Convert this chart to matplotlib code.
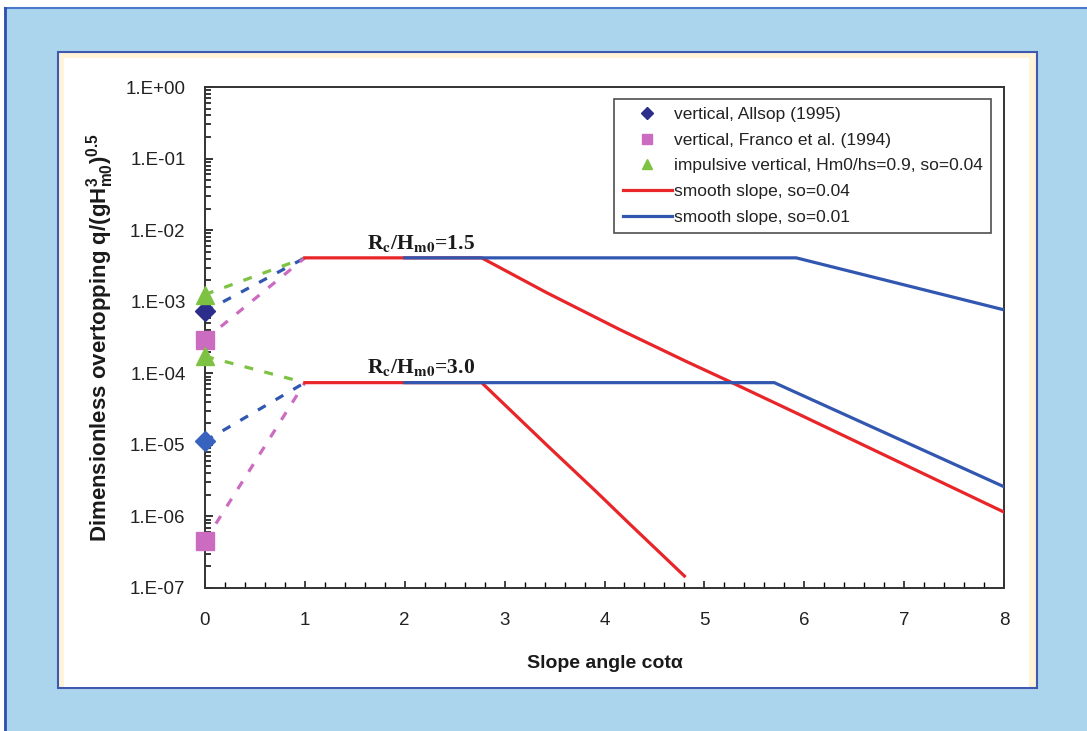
import matplotlib
matplotlib.use("Agg")
import matplotlib.pyplot as plt
from matplotlib.patches import Rectangle
from matplotlib.lines import Line2D
from matplotlib.ticker import FixedLocator, FuncFormatter, LogLocator, NullFormatter, MultipleLocator
import numpy as np

plt.rcParams['font.family'] = ['Liberation Sans', 'DejaVu Sans']
plt.rcParams['mathtext.fontset'] = 'custom'
plt.rcParams['mathtext.rm'] = 'Liberation Sans'
plt.rcParams['mathtext.bf'] = 'Liberation Sans:bold'
plt.rcParams['mathtext.it'] = 'Liberation Sans:italic'

# levels of the horizontal part (x = 1 .. break)
level_15 = 4.1e-3
level_30 = 7.4e-5

# vertical walls at cot = 0, dashed link to x = 1
allsop_15, allsop_30 = 7.3e-4, 1.13e-5
franco_15, franco_30 = 2.96e-4, 4.55e-7
impulse_15, impulse_30 = 1.26e-3, 1.73e-4

# smooth slope so=0.04 (red)
red15_x = [1.0, 2.0, 2.77, 3.42, 4.15, 4.82, 5.25, 5.95, 8.0]
red15_y = [level_15, level_15, level_15, 1.34e-3, 4.1e-4, 1.46e-4, 7.7e-5, 2.66e-5, 1.15e-6]
red30_x = [1.0, 2.0, 2.77, 3.42, 3.92, 4.25, 4.80]
red30_y = [level_30, level_30, level_30, 1.0e-5, 2.2e-6, 7.9e-7, 1.47e-7]

# smooth slope so=0.01 (blue)
blue15_x = [2.0, 5.92, 8.0]
blue15_y = [level_15, level_15, 7.7e-4]
blue30_x = [2.0, 5.7, 8.0]
blue30_y = [level_30, level_30, 2.6e-6]

legend_labels = ['vertical, Allsop (1995)',
                 'vertical, Franco et al. (1994)',
                 'impulsive vertical, Hm0/hs=0.9, so=0.04',
                 'smooth slope, so=0.04',
                 'smooth slope, so=0.01']

RED = '#E8262A'
BLUE = '#3157B0'
NAVY = '#2D2D8C'
BLUE2 = '#3763BF'
PINK = '#CC6CC0'
GREEN = '#7DC242'

W, H = 1087, 731
fig = plt.figure(figsize=(W / 100, H / 100), dpi=100, facecolor='#ABD5EC')


def rect(x0, y0, x1, y1, **kw):
    r = Rectangle((x0 / W, 1 - y1 / H), (x1 - x0) / W, (y1 - y0) / H,
                  transform=fig.transFigure, zorder=-5, **kw)
    fig.add_artist(r)


# frame of the screenshot
rect(0, 0, W, 7, facecolor='white', edgecolor='none')
rect(0, 0, 4, H, facecolor='white', edgecolor='none')
fig.add_artist(Line2D([5 / W, 1], [1 - 8 / H, 1 - 8 / H], transform=fig.transFigure,
                      color='#4A78CC', lw=1.5, zorder=-4))
fig.add_artist(Line2D([5 / W, 5 / W], [0, 1 - 8 / H], transform=fig.transFigure,
                      color='#2F4FB0', lw=2, zorder=-4))
# chart panel
rect(58, 52, 1037, 688, facecolor='#FFF3D8', edgecolor='#3F58B0', linewidth=1.5)
rect(64, 58, 1029, 687, facecolor='white', edgecolor='none')

ax = fig.add_axes([205 / W, 1 - 588 / H, 799 / W, 501 / H])
ax.set_facecolor('white')
ax.set_yscale('log')
ax.set_xlim(0, 8)
ax.set_ylim(1e-7, 1)

dash = (0, (2.8, 3.6))
for y0, y1, c in [(impulse_15, level_15, GREEN), (allsop_15, level_15, BLUE),
                  (franco_15, level_15, PINK), (impulse_30, level_30, GREEN),
                  (allsop_30, level_30, BLUE), (franco_30, level_30, PINK)]:
    ax.plot([0, 1], [y0, y1], color=c, lw=2.3, linestyle=dash, zorder=2)

ax.plot(red15_x, red15_y, color=RED, lw=2.3, zorder=3)
ax.plot(red30_x, red30_y, color=RED, lw=2.3, zorder=3)
ax.plot(blue15_x, blue15_y, color=BLUE, lw=2.3, zorder=4)
ax.plot(blue30_x, blue30_y, color=BLUE, lw=2.3, zorder=4)

ax.plot([0], [allsop_15], 'D', color=NAVY, ms=10.5, clip_on=False, zorder=6)
ax.plot([0], [allsop_30], 'D', color=BLUE2, ms=10.5, clip_on=False, zorder=6)
ax.plot([0, 0], [franco_15, franco_30], 's', color=PINK, ms=13, clip_on=False, zorder=6)
ax.plot([0, 0], [impulse_15, impulse_30], '^', color=GREEN, ms=13, clip_on=False, zorder=6)

for lvl, txt in [(level_15, '1.5'), (level_30, '3.0')]:
    ax.annotate(r'R$_\mathbf{c}$/H$_\mathbf{m0}$=' + txt, xy=(1.62, lvl), xytext=(0, 3),
                textcoords='offset points', va='bottom', ha='left', fontsize=15.5,
                fontweight='bold', family='Liberation Serif', math_fontfamily='stix',
                color='#1a1a1a')

handles = [Line2D([], [], ls='none', marker='D', color=NAVY, ms=6),
           Line2D([], [], ls='none', marker='s', color=PINK, ms=7),
           Line2D([], [], ls='none', marker='^', color=GREEN, ms=7),
           Line2D([], [], color=RED, lw=2.3),
           Line2D([], [], color=BLUE, lw=2.3)]
leg = ax.legend(handles, legend_labels, loc='upper right', bbox_to_anchor=(0.984, 0.977),
                fontsize=12.5, frameon=True, fancybox=False, edgecolor='#222222',
                handlelength=2.8, handletextpad=0.12, labelspacing=0.6,
                borderpad=0.5, borderaxespad=0)
leg.get_frame().set_linewidth(1.2)
for t in leg.get_texts():
    t.set_color('#222222')

ax.yaxis.set_major_locator(FixedLocator([10.0 ** e for e in range(-7, 1)]))
ax.yaxis.set_major_formatter(FuncFormatter(lambda v, p: '1.E%+03d' % int(round(np.log10(v)))))
ax.yaxis.set_minor_locator(LogLocator(base=10, subs=np.arange(2, 10), numticks=20))
ax.yaxis.set_minor_formatter(NullFormatter())
ax.xaxis.set_major_locator(MultipleLocator(1))
ax.xaxis.set_minor_locator(MultipleLocator(0.2))

ax.tick_params(axis='y', which='major', direction='in', length=6, width=1.3, pad=14,
               labelsize=13.5, colors='#222222')
ax.tick_params(axis='y', which='minor', direction='in', length=4, width=1.1)
ax.tick_params(axis='x', which='major', direction='in', length=5, width=1.2, pad=17,
               labelsize=13.5, colors='#222222')
ax.tick_params(axis='x', which='minor', direction='in', length=4, width=1.0)
for s in ax.spines.values():
    s.set_color('#333333')
    s.set_linewidth(1.4)

ax.set_xlabel('Slope angle cotα', fontsize=14, fontweight='bold', labelpad=19, color='#1a1a1a')
ax.set_ylabel(r'Dimensionless overtopping q/(gH$_{\mathbf{m0}}^{\mathbf{3}}$)$^{\mathbf{0.5}}$',
              fontsize=16, fontweight='bold', labelpad=7, color='#1a1a1a')

fig.savefig('out.png', dpi=100, facecolor=fig.get_facecolor())
